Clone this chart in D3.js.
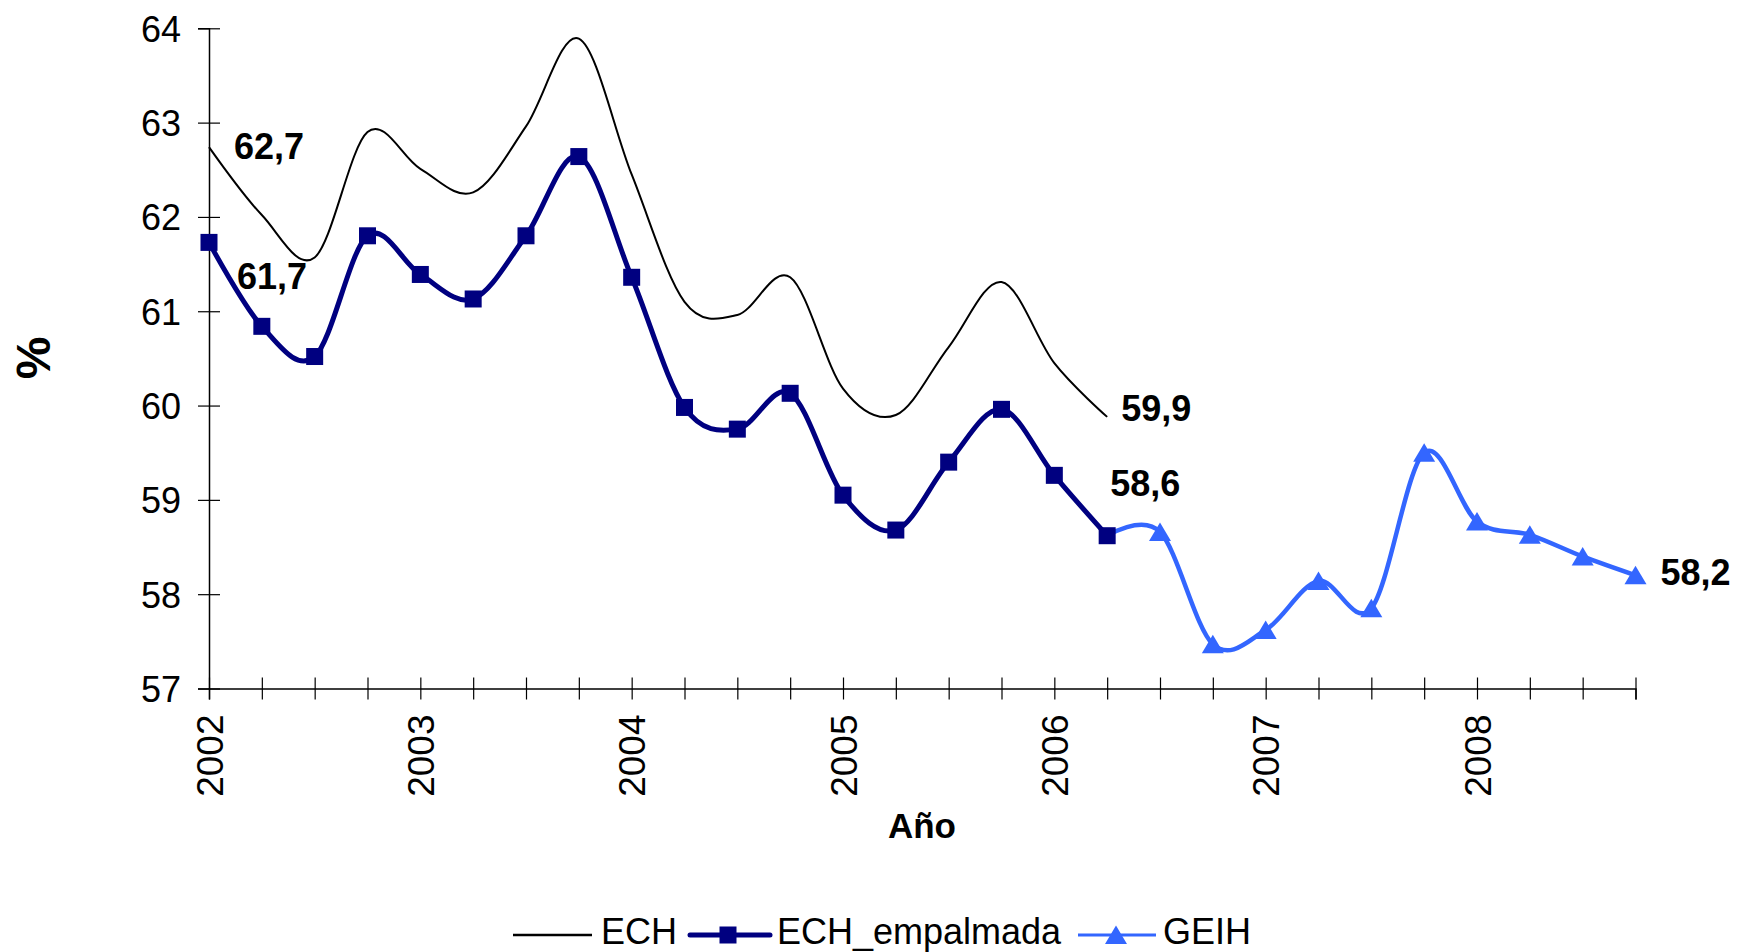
<!DOCTYPE html>
<html>
<head>
<meta charset="utf-8">
<script src="https://cdn.jsdelivr.net/npm/d3@7"></script>
<style>
  body { margin: 0; background: #fff; }
  text { font-family: "Liberation Sans", Arial, sans-serif; }
</style>
</head>
<body>
<div id="chart"></div>
<script>
// Quarterly categories (year-quarter)
var quarters = [
  "2002-1", "2002-2", "2002-3", "2002-4",
  "2003-1", "2003-2", "2003-3", "2003-4",
  "2004-1", "2004-2", "2004-3", "2004-4",
  "2005-1", "2005-2", "2005-3", "2005-4",
  "2006-1", "2006-2", "2006-3", "2006-4",
  "2007-1", "2007-2", "2007-3", "2007-4",
  "2008-1", "2008-2", "2008-3", "2008-4"
];

// ECH and ECH_empalmada: 2002-1 .. 2006-2
var ech = [62.74, 62.02, 61.57, 62.90, 62.51, 62.26, 62.96, 63.89, 62.45,
           61.10, 60.96, 61.36, 60.18, 59.90, 60.62, 61.31, 60.45, 59.88];
var echEmpalmada = [61.73, 60.84, 60.52, 61.80, 61.39, 61.13, 61.80, 62.64, 61.36,
                    59.98, 59.75, 60.13, 59.05, 58.68, 59.40, 59.96, 59.26, 58.62];
// GEIH: 2006-2 .. 2008-4 (first value is the splice point)
var geih = [58.62, 58.66, 57.47, 57.62, 58.14, 57.85, 59.50, 58.77, 58.63, 58.40, 58.20];
var geihStart = 17;

var yTicks = [57, 58, 59, 60, 61, 62, 63, 64];
var seriesNames = ["ECH", "ECH_empalmada", "GEIH"];
var valueLabels = ["62,7", "61,7", "59,9", "58,6", "58,2"];

var W = 1738, H = 952;
var navy = "#000080", lightBlue = "#3366ff";

var svg = d3.select("#chart")
  .append("svg")
  .attr("width", W)
  .attr("height", H);

var x = d3.scalePoint()
  .domain(quarters)
  .range([209, 1635.5]);

var y = d3.scaleLinear()
  .domain([57, 64])
  .range([688.5, 28.3]);

// Axes
var xAxis = svg.append("g")
  .attr("transform", "translate(0," + y(57) + ")")
  .call(d3.axisBottom(x)
    .tickSizeOuter(0)
    .tickSize(11)
    .tickFormat(d => d.slice(5) === "1" ? d.slice(0, 4) : ""));
xAxis.select(".domain").attr("stroke", "#000").attr("stroke-width", 1.5);
xAxis.selectAll(".tick line").attr("y1", -11).attr("y2", 11).attr("stroke", "#000").attr("stroke-width", 1.2);
xAxis.selectAll(".tick text")
  .attr("transform", "rotate(-90)")
  .attr("x", -26)
  .attr("y", 0)
  .attr("dy", "0.36em")
  .style("text-anchor", "end")
  .style("font-size", "37px")
  .attr("fill", "#000");

var yAxis = svg.append("g")
  .attr("transform", "translate(" + x(quarters[0]) + ",0)")
  .call(d3.axisLeft(y).tickValues(yTicks).tickSizeOuter(0).tickSize(11).tickFormat(d3.format("d")));
yAxis.select(".domain").attr("stroke", "#000").attr("stroke-width", 1.5);
yAxis.selectAll(".tick line").attr("x1", -11).attr("x2", 11).attr("stroke", "#000").attr("stroke-width", 1.2);
yAxis.selectAll(".tick text")
  .attr("x", -28)
  .attr("dy", "0.36em")
  .style("font-size", "36px")
  .attr("fill", "#000");

// Axis titles
svg.append("text")
  .attr("transform", "translate(50,358) rotate(-90)")
  .attr("text-anchor", "middle")
  .style("font-size", "48px")
  .style("font-weight", "bold")
  .text("%");

svg.append("text")
  .attr("x", 922)
  .attr("y", 838)
  .attr("text-anchor", "middle")
  .style("font-size", "35px")
  .style("font-weight", "bold")
  .text("Año");

// Lines
var smooth = d3.curveCardinal.tension(0);
var lineFrom = function (offset) {
  return d3.line()
    .x((d, i) => x(quarters[offset + i]))
    .y(d => y(d))
    .curve(smooth);
};

svg.append("path")
  .datum(ech)
  .attr("d", lineFrom(0))
  .attr("fill", "none")
  .attr("stroke", "#000")
  .attr("stroke-width", 2);

svg.append("path")
  .datum(geih)
  .attr("d", lineFrom(geihStart))
  .attr("fill", "none")
  .attr("stroke", lightBlue)
  .attr("stroke-width", 4.5)
  .attr("stroke-linejoin", "round");

svg.append("path")
  .datum(echEmpalmada)
  .attr("d", lineFrom(0))
  .attr("fill", "none")
  .attr("stroke", navy)
  .attr("stroke-width", 5)
  .attr("stroke-linejoin", "round");

// Markers
var sq = 17;
svg.selectAll(".sq")
  .data(echEmpalmada)
  .enter()
  .append("rect")
  .attr("x", (d, i) => x(quarters[i]) - sq / 2)
  .attr("y", d => y(d) - sq / 2)
  .attr("width", sq)
  .attr("height", sq)
  .attr("fill", navy);

var tri = "M0,-9.5L11,9L-11,9Z";
svg.selectAll(".tri")
  .data(geih.slice(1))
  .enter()
  .append("path")
  .attr("d", tri)
  .attr("transform", (d, i) => "translate(" + x(quarters[geihStart + 1 + i]) + "," + y(d) + ")")
  .attr("fill", lightBlue);

// Value labels
var labelFont = function (sel) {
  sel.style("font-size", "36px").style("font-weight", "bold").attr("fill", "#000");
};
var lastEch = ech.length - 1;
var lastQ = quarters.length - 1;
svg.append("text").attr("x", x(quarters[0]) + 25).attr("y", y(ech[0]) + 12)
  .text(valueLabels[0]).call(labelFont);
svg.append("text").attr("x", x(quarters[0]) + 28).attr("y", y(echEmpalmada[0]) + 47)
  .text(valueLabels[1]).call(labelFont);
svg.append("text").attr("x", x(quarters[lastEch]) + 14).attr("y", y(ech[lastEch]) + 4)
  .text(valueLabels[2]).call(labelFont);
svg.append("text").attr("x", x(quarters[lastEch]) + 3).attr("y", y(echEmpalmada[lastEch]) - 40)
  .text(valueLabels[3]).call(labelFont);
svg.append("text").attr("x", x(quarters[lastQ]) + 25).attr("y", y(geih[geih.length - 1]) + 10)
  .text(valueLabels[4]).call(labelFont);

// Legend
var legY = 935, legBase = 944;
var leg = svg.append("g");
leg.append("line").attr("x1", 513).attr("x2", 592).attr("y1", legY).attr("y2", legY)
  .attr("stroke", "#000").attr("stroke-width", 2.5);
leg.append("text").attr("x", 601).attr("y", legBase).style("font-size", "36px").text(seriesNames[0]);

leg.append("line").attr("x1", 690).attr("x2", 770).attr("y1", legY).attr("y2", legY)
  .attr("stroke", navy).attr("stroke-width", 5).attr("stroke-linecap", "round");
leg.append("rect").attr("x", 728 - sq / 2).attr("y", legY - sq / 2).attr("width", sq).attr("height", sq).attr("fill", navy);
leg.append("text").attr("x", 777).attr("y", legBase).style("font-size", "36px").text(seriesNames[1]);

leg.append("line").attr("x1", 1078).attr("x2", 1156).attr("y1", legY).attr("y2", legY)
  .attr("stroke", lightBlue).attr("stroke-width", 3);
leg.append("path").attr("d", tri).attr("transform", "translate(1116," + legY + ")").attr("fill", lightBlue);
leg.append("text").attr("x", 1163).attr("y", legBase).style("font-size", "36px").text(seriesNames[2]);
</script>
</body>
</html>
